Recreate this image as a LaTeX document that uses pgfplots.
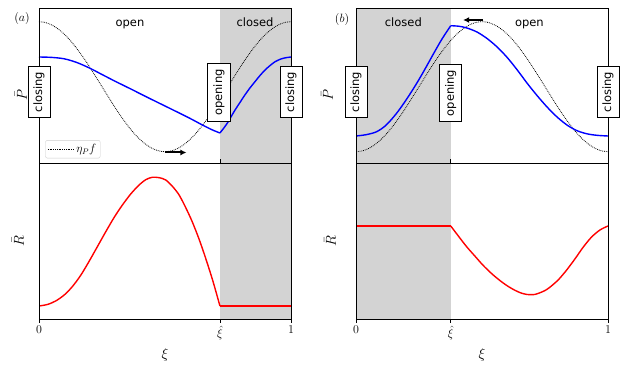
\documentclass[border=0pt]{standalone}
\usepackage{pgfplots}
\pgfplotsset{compat=1.18}
\usetikzlibrary{arrows.meta}
\usepackage{fontspec}
\setmainfont{DejaVu Sans}
\definecolor{lgray}{HTML}{D3D3D3}
\tikzset{
  txt/.style={font=\fontsize{11.5}{13}\selectfont},
  lbl/.style={draw=black, fill=white, rotate=90, font=\fontsize{11.5}{13}\selectfont,
    inner xsep=5.5pt, inner ysep=5.5pt, line width=0.8pt},
  bluel/.style={blue, line width=1.4pt},
  redl/.style={red, line width=1.4pt},
  dotl/.style={black, densely dotted, line width=0.8pt},
}
\begin{document}
\begin{tikzpicture}[x=1pt,y=1pt]
\useasboundingbox (0,0) rectangle (623,369);
\pgfplotsset{
  panel/.style={scale only axis, width=252pt, xmin=0, xmax=1, ytick=\empty,
    axis on top, anchor=south west, axis line style={line width=0.8pt},
    tick align=outside, major tick length=3.5pt, tick style={black, line width=0.8pt},
    xticklabel style={font=\fontsize{12.5}{14}\selectfont},
    legend image code/.code={\draw[##1] (0pt,0pt) -- (26pt,0pt);}},
  toppanel/.style={panel, height=155pt, ymin=0, ymax=155, xtick=\empty},
  botpanel/.style={panel, height=156pt, ymin=0, ymax=156},
}
% ---------- (a) top ----------
\begin{axis}[toppanel, at={(39pt,206pt)},
  legend style={at={(0.025,0.03)}, anchor=south west, draw=black!20, rounded corners=2pt,
    font=\fontsize{12}{13}\selectfont, inner sep=2pt}]
\fill[lgray] (axis cs:0.718,0) rectangle (axis cs:1,155);
\addplot[dotl, smooth] coordinates {
(0,141.3) (0.025,140.5) (0.05,138.1) (0.075,134.2) (0.1,128.9) (0.125,122.3) (0.15,114.5)
(0.175,105.8) (0.2,96.4) (0.225,86.4) (0.25,76.3) (0.275,66.2) (0.3,56.2) (0.325,46.8)
(0.35,38.1) (0.375,30.3) (0.4,23.7) (0.425,18.4) (0.45,14.5) (0.475,12.1) (0.5,11.3)
(0.525,12.1) (0.55,14.5) (0.575,18.4) (0.6,23.7) (0.625,30.3) (0.65,38.1) (0.675,46.8)
(0.7,56.2) (0.725,66.2) (0.75,76.3) (0.775,86.4) (0.8,96.4) (0.825,105.8) (0.85,114.5)
(0.875,122.3) (0.9,128.9) (0.925,134.2) (0.95,138.1) (0.975,140.5) (1,141.3)};
\addlegendentry{$\eta_P f$}
\addplot[bluel, smooth, forget plot] coordinates {
(0,106) (0.05,105.6) (0.1,104.2) (0.15,100.5) (0.2,95) (0.25,88.5) (0.3,82) (0.35,75.8)
(0.4,69.5) (0.45,63.2) (0.5,57) (0.55,50.8) (0.6,44.5) (0.65,37.8) (0.68,34) (0.7,31.8) (0.718,30)};
\addplot[bluel, smooth, forget plot] coordinates {
(0.718,30) (0.735,35.5) (0.751,41.3) (0.765,47.5) (0.778,53) (0.8,61.5) (0.817,68) (0.837,75)
(0.857,81.3) (0.877,87.5) (0.897,93) (0.917,97.5) (0.937,101.3) (0.96,104) (0.98,105.3) (1,106)};
\draw[-{Latex[length=6pt,width=6pt]}, line width=2pt] (axis cs:0.5,10.5) -- (axis cs:0.585,10.5);
\node[txt, anchor=base] at (axis cs:0.361,136) {open};
\node[txt, anchor=base] at (axis cs:0.857,136) {closed};
\coordinate (A1) at (axis cs:0,71);
\coordinate (A2) at (axis cs:0.714,70.5);
\coordinate (A3) at (axis cs:1,71);
\end{axis}
% ---------- (a) bottom ----------
\begin{axis}[botpanel, at={(39pt,50pt)}, xtick={0,0.718,1}, xticklabels={$0$,$\hat{\xi}$,$1$}]
\fill[lgray] (axis cs:0.718,0) rectangle (axis cs:1,156);
\addplot[redl, smooth] coordinates {
(0,13) (0.033,14.5) (0.066,18) (0.1,24) (0.132,32.3) (0.165,43.5) (0.198,57.3) (0.232,72.5)
(0.265,87.3) (0.298,101.5) (0.331,114) (0.364,125) (0.397,134) (0.425,139.5) (0.45,141.7)
(0.477,141.3) (0.503,139) (0.53,132.5) (0.556,124) (0.582,111.5) (0.608,97.3) (0.635,80)
(0.661,61) (0.69,38) (0.718,13)};
\addplot[redl] coordinates {(0.718,13) (1,13)};
\end{axis}
% ---------- (b) top ----------
\begin{axis}[toppanel, at={(356pt,206pt)}]
\fill[lgray] (axis cs:0,0) rectangle (axis cs:0.376,155);
\addplot[dotl, smooth] coordinates {
(0,11.3) (0.025,12.1) (0.05,14.5) (0.075,18.4) (0.1,23.7) (0.125,30.3) (0.15,38.1)
(0.175,46.8) (0.2,56.2) (0.225,66.2) (0.25,76.3) (0.275,86.4) (0.3,96.4) (0.325,105.8)
(0.35,114.5) (0.375,122.3) (0.4,128.9) (0.425,134.2) (0.45,138.1) (0.475,140.5) (0.5,141.3)
(0.525,140.5) (0.55,138.1) (0.575,134.2) (0.6,128.9) (0.625,122.3) (0.65,114.5) (0.675,105.8)
(0.7,96.4) (0.725,86.4) (0.75,76.3) (0.775,66.2) (0.8,56.2) (0.825,46.8) (0.85,38.1)
(0.875,30.3) (0.9,23.7) (0.925,18.4) (0.95,14.5) (0.975,12.1) (1,11.3)};
\addplot[bluel, smooth] coordinates {
(0,27) (0.04,28.3) (0.082,31.3) (0.12,38) (0.161,49.7) (0.2,63.5) (0.241,79.7)
(0.275,94.5) (0.307,109) (0.34,123.5) (0.376,137.3)};
\addplot[bluel, smooth] coordinates {
(0.376,137.3) (0.41,136.7) (0.44,135) (0.48,131) (0.52,124.5) (0.56,116) (0.6,105.5)
(0.64,93) (0.68,79.5) (0.72,67) (0.76,55.5) (0.8,45.5) (0.84,37.5) (0.88,32) (0.92,29)
(0.96,27.6) (1,27)};
\draw[-{Latex[length=6pt,width=6pt]}, line width=2pt] (axis cs:0.505,143) -- (axis cs:0.425,143);
\node[txt, anchor=base] at (axis cs:0.188,136) {closed};
\node[txt, anchor=base] at (axis cs:0.688,136) {open};
\coordinate (B1) at (axis cs:0,71);
\coordinate (B2) at (axis cs:0.376,70);
\coordinate (B3) at (axis cs:1,71);
\end{axis}
% ---------- (b) bottom ----------
\begin{axis}[botpanel, at={(356pt,50pt)}, xtick={0,0.376,1}, xticklabels={$0$,$\hat{\xi}$,$1$}]
\fill[lgray] (axis cs:0,0) rectangle (axis cs:0.376,156);
\addplot[redl] coordinates {(0,93) (0.376,93)};
\addplot[redl, smooth] coordinates {
(0.376,93) (0.41,81.7) (0.44,72) (0.475,62) (0.505,53.5) (0.54,45) (0.571,38.5) (0.6,33.2)
(0.63,28.8) (0.655,26) (0.677,24.6) (0.7,24.3) (0.72,25.3) (0.757,29.5) (0.8,38.5) (0.836,49)
(0.87,60.5) (0.902,72) (0.935,82) (0.968,89) (1,93)};
\end{axis}
% ---------- boxed labels ----------
\node[lbl] at (A1) {closing};
\node[lbl] at (A2) {opening};
\node[lbl] at (A3) {closing};
\node[lbl] at (B1) {closing};
\node[lbl] at (B2) {opening};
\node[lbl] at (B3) {closing};
% ---------- axis labels ----------
\node[font=\fontsize{13}{15}\selectfont] at (22,350) {$(a)$};
\node[font=\fontsize{13}{15}\selectfont] at (342,349) {$(b)$};
\node[font=\fontsize{15}{17}\selectfont, rotate=90] at (21,274) {$\bar{P}$};
\node[font=\fontsize{15}{17}\selectfont, rotate=90] at (18,128) {$\bar{R}$};
\node[font=\fontsize{15}{17}\selectfont, rotate=90] at (327,274) {$\bar{P}$};
\node[font=\fontsize{15}{17}\selectfont, rotate=90] at (330,128) {$\bar{R}$};
\node[font=\fontsize{15}{17}\selectfont] at (165,14) {$\xi$};
\node[font=\fontsize{15}{17}\selectfont] at (482,14) {$\xi$};
\end{tikzpicture}
\end{document}
